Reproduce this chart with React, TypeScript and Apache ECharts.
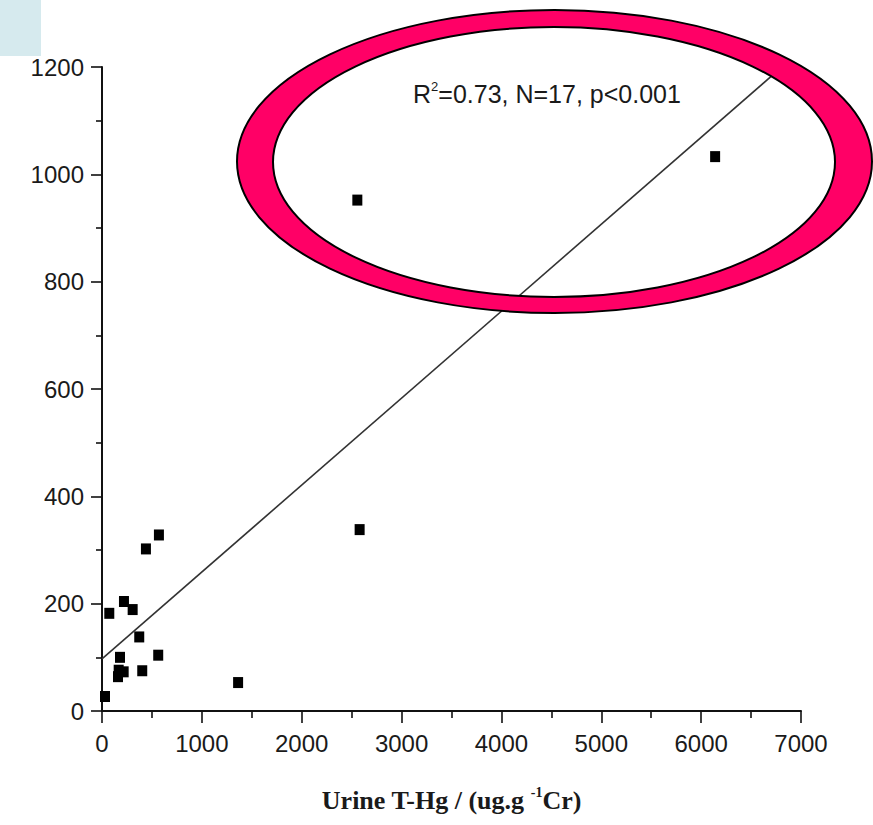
import React, { useEffect, useRef } from "react";
import * as echarts from "echarts";

// Scatter data: Urine T-Hg (x) vs. the y quantity
const urineTHg = [30, 73, 220, 307, 373, 180, 563, 167, 217, 160, 403, 440, 570, 1363, 2580, 2557, 6140];
const yValues = [27, 182, 204, 189, 138, 100, 104, 76, 73, 64, 75, 302, 328, 53, 338, 952, 1033];

// Regression line
const fitIntercept = 97;
const fitSlope = 0.162;
const fitXRange = [0, 7000];

const xTicks = [0, 1000, 2000, 3000, 4000, 5000, 6000, 7000];
const yTicks = [0, 200, 400, 600, 800, 1000, 1200];

const ringPath =
  "M 237 161.5 A 317.5 151.5 0 1 1 872 161.5 A 317.5 151.5 0 1 1 237 161.5 Z " +
  "M 273 162 A 281 135 0 1 0 835 162 A 281 135 0 1 0 273 162 Z";

let registered = false;

export default function App() {
  const ref = useRef<HTMLDivElement>(null);
  useEffect(() => {
    if (!ref.current) return;
    if (!registered) {
      echarts.graphic.registerShape("ringShape", echarts.graphic.extendPath(ringPath, {}));
      registered = true;
    }
    const chart = echarts.init(ref.current, null, { renderer: "svg" });
    const scatterData = urineTHg.map((x, i) => [x, yValues[i]]);
    const fitData = fitXRange.map((x) => [x, fitIntercept + fitSlope * x]);
    const labelStyle = {
      color: "#1a1a1a",
      fontFamily: "Liberation Sans, Arial, sans-serif",
      fontSize: 24,
      formatter: (v: number) => String(v),
    };
    chart.setOption({
      animation: false,
      backgroundColor: "#ffffff",
      grid: { left: 102, right: 72, top: 67, bottom: 114, containLabel: false },
      xAxis: {
        type: "value",
        min: xTicks[0],
        max: xTicks[xTicks.length - 1],
        interval: 1000,
        name: "{m|Urine T-Hg / (ug.g }{s|-1}{m|Cr)}",
        nameLocation: "middle",
        nameGap: 74,
        nameTextStyle: {
          rich: {
            m: {
              fontFamily: "Liberation Serif, Times New Roman, serif",
              fontWeight: "bold",
              fontSize: 26,
              color: "#1a1a1a",
              lineHeight: 30,
            },
            s: {
              fontFamily: "Liberation Serif, Times New Roman, serif",
              fontWeight: "bold",
              fontSize: 14,
              color: "#1a1a1a",
              verticalAlign: "top",
              lineHeight: 14,
            },
          },
        },
        axisLine: { show: true, onZero: false, lineStyle: { color: "#111111", width: 2 } },
        axisTick: { show: true, inside: false, length: 12, lineStyle: { color: "#111111", width: 1.6 } },
        minorTick: { show: true, splitNumber: 2, length: 7, lineStyle: { color: "#111111", width: 1.6 } },
        splitLine: { show: false },
        axisLabel: { ...labelStyle, margin: 20 },
      },
      yAxis: {
        type: "value",
        min: yTicks[0],
        max: yTicks[yTicks.length - 1],
        interval: 200,
        axisLine: { show: true, onZero: false, lineStyle: { color: "#111111", width: 2 } },
        axisTick: { show: true, inside: false, length: 11, lineStyle: { color: "#111111", width: 1.6 } },
        minorTick: { show: true, splitNumber: 2, length: 6, lineStyle: { color: "#111111", width: 1.6 } },
        splitLine: { show: false },
        axisLabel: { ...labelStyle, margin: 18 },
      },
      series: [
        {
          type: "line",
          data: fitData,
          showSymbol: false,
          symbol: "none",
          clip: true,
          lineStyle: { color: "#333333", width: 1.6 },
          z: 2,
        },
        {
          type: "scatter",
          data: scatterData,
          symbol: "rect",
          symbolSize: [10, 11],
          itemStyle: { color: "#000000", opacity: 1 },
          z: 3,
        },
      ],
      graphic: {
        elements: [
          {
            type: "rect",
            left: 0,
            top: 0,
            shape: { x: 0, y: 0, width: 41, height: 56 },
            style: { fill: "#d6eaee" },
            z: 20,
          },
          {
            type: "ringShape",
            x: 0,
            y: 0,
            style: { fill: "#ff0066", stroke: "#000000", lineWidth: 2 },
            z: 10,
          },
          {
            type: "text",
            x: 413,
            y: 80,
            style: {
              text: "{a|R}{s|2}{a|=0.73, N=17, p<0.001}",
              rich: {
                a: {
                  fontFamily: "Liberation Sans, Arial, sans-serif",
                  fontSize: 25,
                  fill: "#1a1a1a",
                  lineHeight: 28,
                },
                s: {
                  fontFamily: "Liberation Sans, Arial, sans-serif",
                  fontSize: 13,
                  fill: "#1a1a1a",
                  verticalAlign: "top",
                  lineHeight: 13,
                },
              },
            },
            z: 11,
          },
        ],
      },
    });
    return () => chart.dispose();
  }, []);
  return (
    <div
      ref={ref}
      style={{ position: "absolute", left: 0, top: 0, width: 873, height: 825 }}
    />
  );
}
